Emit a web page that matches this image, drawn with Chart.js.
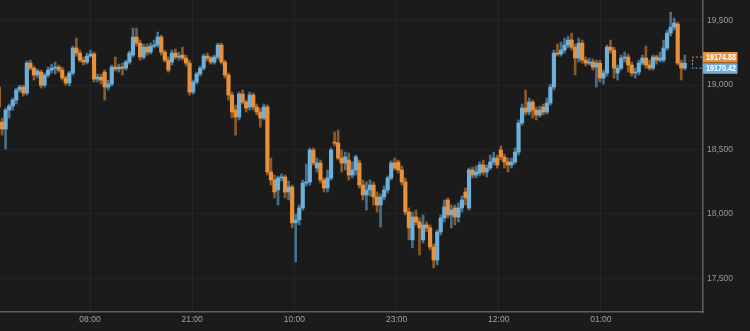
<!DOCTYPE html>
<html>
<head>
<meta charset="utf-8">
<script src="https://cdn.jsdelivr.net/npm/chart.js@4.4.1/dist/chart.umd.min.js"></script>
<style>
  html, body { margin: 0; padding: 0; background: #1b1b1b; }
  #wrap { width: 750px; height: 331px; }
</style>
</head>
<body>
<div id="wrap"><canvas id="chart" width="750" height="331"></canvas></div>
<script>
// candles, oldest first
const open = [
  18985, 18713, 18659, 18806, 18837, 18884, 18962, 18985, 18938, 19171,
  19132, 19078, 19101, 19000, 19078, 19117, 19132, 19140, 19117, 19055,
  19016, 19094, 19288, 19249, 19194, 19179, 19225, 19241, 19047, 19062,
  19101, 18985, 19008, 19140, 19125, 19140, 19132, 19179, 19233, 19373,
  19326, 19218, 19295, 19256, 19303, 19311, 19373, 19256, 19194, 19179,
  19249, 19218, 19233, 19210, 19171, 18946, 19024, 19086, 19132, 19225,
  19210, 19179, 19218, 19311, 19179, 19078, 18923, 18806, 18752, 18931,
  18868, 18830, 18923, 18830, 18791, 18744, 18830, 18325, 18263, 18186,
  18279, 18286, 18170, 18209, 17930, 17953, 18046, 18240, 18248, 18496,
  18356, 18395, 18263, 18201, 18279, 18558, 18550, 18434, 18395, 18418,
  18302, 18341, 18395, 18224, 18147, 18186, 18224, 18131, 18069, 18131,
  18186, 18279, 18395, 18403, 18341, 18248, 18015, 17798, 17976, 17937,
  17798, 17914, 17891, 17743, 17642, 17860, 17968, 18108, 17992, 18046,
  17976, 18046, 18170, 18046, 18341, 18302, 18318, 18380, 18325, 18356,
  18403, 18434, 18496, 18442, 18403, 18380, 18403, 18480, 18706, 18822,
  18791, 18868, 18806, 18768, 18830, 18791, 18861, 18985, 19249, 19241,
  19272, 19311, 19350, 19295, 19210, 19326, 19194, 19171, 19179, 19140,
  19171, 19055, 19094, 19295, 19272, 19094, 19132, 19210, 19218, 19156,
  19094, 19101, 19171, 19210, 19156, 19132, 19218, 19194, 19194, 19288,
  19404, 19450, 19474, 19171, 19132
];
const high = [
  19008, 18744, 18822, 18853, 18900, 18977, 19000, 19000, 19187, 19194,
  19148, 19125, 19117, 19094, 19140, 19163, 19179, 19156, 19140, 19070,
  19109, 19303, 19365, 19272, 19218, 19249, 19272, 19256, 19086, 19086,
  19117, 19039, 19156, 19218, 19163, 19171, 19194, 19264, 19443, 19443,
  19350, 19319, 19319, 19326, 19350, 19412, 19388, 19272, 19218, 19272,
  19280, 19256, 19295, 19233, 19194, 19039, 19101, 19148, 19241, 19249,
  19225, 19233, 19326, 19326, 19194, 19094, 18946, 18845, 18946, 18962,
  18884, 18946, 18938, 18853, 18822, 18853, 18845, 18434, 18302, 18294,
  18310, 18302, 18255, 18224, 17999, 18069, 18263, 18387, 18512, 18512,
  18434, 18418, 18279, 18341, 18512, 18636, 18651, 18496, 18480, 18473,
  18403, 18457, 18418, 18263, 18248, 18263, 18248, 18170, 18155, 18217,
  18294, 18411, 18434, 18418, 18372, 18279, 18046, 18015, 18030, 17968,
  17992, 17937, 17914, 17767, 17875, 17992, 18108, 18124, 18069, 18069,
  18085, 18139, 18201, 18356, 18364, 18372, 18403, 18418, 18380, 18457,
  18480, 18457, 18527, 18465, 18434, 18434, 18512, 18729, 18853, 18962,
  18900, 18884, 18830, 18837, 18853, 18900, 19008, 19272, 19319, 19334,
  19365, 19381, 19404, 19319, 19365, 19350, 19218, 19210, 19202, 19194,
  19194, 19117, 19311, 19350, 19295, 19156, 19233, 19256, 19241, 19179,
  19132, 19194, 19233, 19303, 19194, 19233, 19233, 19256, 19350, 19427,
  19567, 19520, 19489, 19194, 19233
];
const low = [
  18806, 18612, 18504, 18744, 18806, 18853, 18946, 18915, 18923, 19117,
  19039, 19055, 18977, 18985, 19062, 19094, 19086, 19101, 19039, 19000,
  18993, 19078, 19225, 19179, 19156, 19163, 19218, 19024, 19024, 19008,
  18884, 18962, 18993, 19109, 19101, 19078, 19117, 19163, 19218, 19303,
  19194, 19202, 19233, 19241, 19288, 19295, 19233, 19179, 19101, 19156,
  19202, 19194, 19194, 19148, 18923, 18931, 19008, 19070, 19117, 19187,
  19163, 19163, 19202, 19163, 19055, 18884, 18744, 18612, 18729, 18853,
  18791, 18806, 18806, 18768, 18674, 18729, 18302, 18224, 18124, 18069,
  18255, 18124, 18108, 17891, 17627, 17914, 18030, 18217, 18224, 18380,
  18325, 18240, 18170, 18170, 18263, 18527, 18418, 18325, 18341, 18263,
  18279, 18302, 18201, 18108, 18030, 18139, 18069, 18015, 17898, 18108,
  18162, 18263, 18341, 18318, 18224, 17992, 17798, 17736, 17914, 17681,
  17774, 17860, 17720, 17580, 17604, 17836, 17937, 17968, 17891, 17914,
  17937, 18015, 18069, 18030, 18279, 18279, 18294, 18302, 18286, 18341,
  18380, 18356, 18418, 18356, 18325, 18356, 18387, 18457, 18690, 18768,
  18768, 18744, 18729, 18752, 18768, 18775, 18845, 18962, 19225, 19225,
  19249, 19288, 19272, 19078, 19179, 19171, 19148, 19156, 19117, 18985,
  19024, 19008, 19070, 19249, 19055, 19039, 19117, 19179, 19101, 19070,
  19055, 19078, 19156, 19132, 19117, 19117, 19163, 19179, 19179, 19272,
  19381, 19427, 19156, 19039, 19117
];
const close = [
  18830, 18659, 18806, 18837, 18884, 18962, 18985, 18938, 19171, 19132,
  19078, 19109, 19000, 19078, 19117, 19132, 19140, 19117, 19055, 19016,
  19094, 19288, 19249, 19194, 19179, 19225, 19241, 19047, 19062, 19039,
  18985, 19008, 19140, 19125, 19140, 19132, 19179, 19249, 19373, 19326,
  19218, 19295, 19256, 19303, 19311, 19373, 19256, 19194, 19117, 19249,
  19218, 19225, 19210, 19171, 18946, 19024, 19086, 19132, 19225, 19210,
  19179, 19218, 19311, 19179, 19078, 18923, 18791, 18752, 18931, 18868,
  18822, 18923, 18830, 18791, 18744, 18830, 18325, 18263, 18170, 18279,
  18286, 18170, 18209, 17930, 17953, 18046, 18240, 18248, 18496, 18395,
  18395, 18263, 18201, 18279, 18496, 18550, 18434, 18395, 18442, 18302,
  18341, 18442, 18224, 18147, 18186, 18224, 18131, 18069, 18131, 18186,
  18279, 18395, 18356, 18341, 18248, 18015, 17891, 17976, 17937, 17891,
  17914, 17891, 17743, 17642, 17860, 17968, 18054, 17992, 18030, 17976,
  18046, 18108, 18124, 18341, 18302, 18325, 18380, 18325, 18356, 18403,
  18434, 18380, 18442, 18403, 18380, 18403, 18480, 18706, 18822, 18791,
  18868, 18806, 18768, 18806, 18791, 18861, 18985, 19249, 19241, 19272,
  19311, 19350, 19295, 19210, 19326, 19194, 19171, 19179, 19140, 19171,
  19055, 19094, 19295, 19272, 19132, 19132, 19210, 19218, 19156, 19094,
  19101, 19171, 19210, 19156, 19132, 19218, 19194, 19210, 19288, 19404,
  19450, 19482, 19171, 19132, 19171
];

// time axis: minutes after 20:00 of the first day
const firstCandle = 22;
const candleStep = 27;
const tickMinutes = [720, 1500, 2280, 3060, 3840, 4620];
const tickLabels = ["08:00", "21:00", "10:00", "23:00", "12:00", "01:00"];
const priceTicks = [17500, 18000, 18500, 19000, 19500];
const lastPrices = [19174.88, 19170.42];

const upColor = "#6fb0da";
const downColor = "#e8913c";
const upWick = "rgba(90,145,185,0.7)";
const downWick = "rgba(190,115,45,0.7)";
const fontFamily = "'Liberation Sans', Arial, Helvetica, sans-serif";

const times = open.map((_, i) => firstCandle + i * candleStep);
const isUp = close.map((c, i) => c >= open[i]);

const bodies = times.map((t, i) => ({ x: t, y: [open[i], close[i]] }));
const wicks = times.map((t, i) => ({ x: t, y: [low[i], high[i]] }));

const overlay = {
  id: "overlay",
  beforeDraw(chart) {
    const c = chart.ctx;
    c.save();
    c.fillStyle = "#1b1b1b";
    c.fillRect(0, 0, chart.width, chart.height);
    c.restore();
  },
  afterDraw(chart) {
    const c = chart.ctx;
    const area = chart.chartArea;
    const yScale = chart.scales.y;
    const yA = yScale.getPixelForValue(lastPrices[0]);
    const yB = yScale.getPixelForValue(lastPrices[1]);

    c.save();
    // dashed placeholder for the next candle
    c.lineWidth = 1;
    c.setLineDash([2, 2]);
    const bx = area.right - 10.5;
    c.strokeStyle = downColor;
    c.beginPath();
    c.moveTo(area.right - 1, yA - 5.5);
    c.lineTo(bx, yA - 5.5);
    c.lineTo(bx, yA);
    c.stroke();
    c.strokeStyle = upColor;
    c.beginPath();
    c.moveTo(bx, yB);
    c.lineTo(bx, yB + 5);
    c.lineTo(area.right - 1, yB + 5);
    c.stroke();
    c.setLineDash([]);

    // last price boxes
    const w = 34.5;
    c.fillStyle = downColor;
    c.fillRect(area.right, yA - 10.6, w, 10.6);
    c.fillStyle = upColor;
    c.fillRect(area.right, yB, w, 10.6);
    c.fillStyle = "#ffffff";
    c.font = "bold 9px " + fontFamily;
    c.textBaseline = "middle";
    c.textAlign = "left";
    c.fillText(lastPrices[0].toFixed(2), area.right + 3, yA - 5.1, 30);
    c.fillText(lastPrices[1].toFixed(2), area.right + 3, yB + 5.5, 30);
    c.restore();
  }
};

new Chart(document.getElementById("chart"), {
  type: "bar",
  data: {
    datasets: [
      {
        data: wicks,
        backgroundColor: isUp.map(u => u ? upWick : downWick),
        barThickness: 2,
        grouped: false,
        order: 2
      },
      {
        data: bodies,
        backgroundColor: isUp.map(u => u ? upColor : downColor),
        barThickness: 3.5,
        minBarLength: 1,
        grouped: false,
        order: 1
      }
    ]
  },
  options: {
    responsive: false,
    animation: false,
    layout: { padding: 0 },
    plugins: {
      legend: { display: false },
      tooltip: { enabled: false }
    },
    scales: {
      x: {
        type: "linear",
        min: 33,
        max: 5399,
        offset: false,
        afterBuildTicks: s => { s.ticks = tickMinutes.map(v => ({ value: v })); },
        afterFit: s => { s.height = 19; s.paddingLeft = 0; s.paddingRight = 0; },
        grid: { color: "#252525", offset: false, drawTicks: false },
        border: { color: "#606060", width: 1.5 },
        ticks: {
          color: "#a3a3a3",
          font: { family: fontFamily, size: 8.5 },
          padding: 3,
          maxRotation: 0,
          autoSkip: false,
          callback: (v, i) => tickLabels[i]
        }
      },
      y: {
        position: "right",
        min: 17238,
        max: 19661,
        afterBuildTicks: s => { s.ticks = priceTicks.map(v => ({ value: v })); },
        afterFit: s => { s.width = 47; s.paddingTop = 0; s.paddingBottom = 0; },
        grid: { color: "#252525", drawTicks: false },
        border: { color: "#606060", width: 1.5 },
        ticks: {
          color: "#9a9a9a",
          font: { family: fontFamily, size: 8.5 },
          padding: 4,
          callback: v => v.toLocaleString("en-US")
        }
      }
    }
  },
  plugins: [overlay]
});
</script>
</body>
</html>
